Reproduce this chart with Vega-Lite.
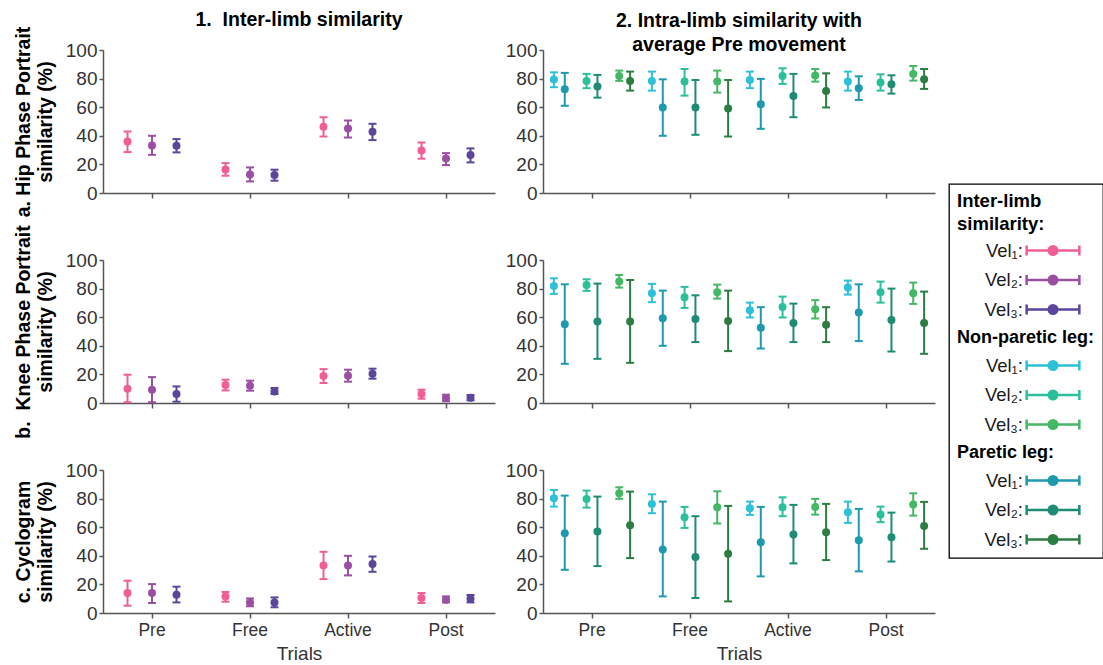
{
  "$schema": "https://vega.github.io/schema/vega-lite/v6.json",
  "padding": {"left": 13, "top": 9, "right": 0, "bottom": 0},
  "config": {
    "font": "Liberation Sans",
    "view": {"stroke": null},
    "axis": {
      "domainColor": "#555555", "domainWidth": 1.5,
      "tickColor": "#555555", "tickWidth": 1.5, "tickSize": 4,
      "labelColor": "#333333", "labelPadding": 2,
      "grid": false,
      "titleFontSize": 19.5, "titleFontWeight": "bold", "titleColor": "#000000"
    },
    "axisX": {"tickSize": 5, "labelAngle": 0, "labelFontSize": 17.5},
    "axisY": {"labelFontSize": 19},
    "legend": {"strokeWidth": 1.3},
    "title": {"fontSize": 19.5, "fontWeight": "bold", "color": "#000000", "anchor": "middle", "frame": "group"}
  },
  "data": {
    "values": [
      {"m": "Hip", "t": "Pre", "s": "I1", "v": 36, "lo": 28.6, "hi": 43},
      {"m": "Hip", "t": "Pre", "s": "I2", "v": 33.3, "lo": 26.7, "hi": 40},
      {"m": "Hip", "t": "Pre", "s": "I3", "v": 33, "lo": 28.4, "hi": 37.7},
      {"m": "Hip", "t": "Free", "s": "I1", "v": 16.5, "lo": 12.1, "hi": 20.9},
      {"m": "Hip", "t": "Free", "s": "I2", "v": 13, "lo": 8.1, "hi": 17.9},
      {"m": "Hip", "t": "Free", "s": "I3", "v": 12.6, "lo": 8.6, "hi": 16.3},
      {"m": "Hip", "t": "Active", "s": "I1", "v": 46.3, "lo": 39.5, "hi": 53},
      {"m": "Hip", "t": "Active", "s": "I2", "v": 45.1, "lo": 38.8, "hi": 50.7},
      {"m": "Hip", "t": "Active", "s": "I3", "v": 42.8, "lo": 37, "hi": 48.4},
      {"m": "Hip", "t": "Post", "s": "I1", "v": 29.8, "lo": 24, "hi": 35.3},
      {"m": "Hip", "t": "Post", "s": "I2", "v": 24.2, "lo": 19.5, "hi": 27.9},
      {"m": "Hip", "t": "Post", "s": "I3", "v": 26.5, "lo": 21.4, "hi": 31.2},

      {"m": "Hip", "t": "Pre", "s": "N1", "v": 79.3, "lo": 74, "hi": 84.4},
      {"m": "Hip", "t": "Pre", "s": "P1", "v": 72.6, "lo": 61, "hi": 84},
      {"m": "Hip", "t": "Pre", "s": "N2", "v": 78.4, "lo": 73.3, "hi": 83.3},
      {"m": "Hip", "t": "Pre", "s": "P2", "v": 74.4, "lo": 66.7, "hi": 82.6},
      {"m": "Hip", "t": "Pre", "s": "N3", "v": 81.9, "lo": 78.4, "hi": 85.6},
      {"m": "Hip", "t": "Pre", "s": "P3", "v": 78.4, "lo": 71.6, "hi": 84.9},
      {"m": "Hip", "t": "Free", "s": "N1", "v": 78.4, "lo": 71.6, "hi": 84.9},
      {"m": "Hip", "t": "Free", "s": "P1", "v": 59.8, "lo": 40, "hi": 79.5},
      {"m": "Hip", "t": "Free", "s": "N2", "v": 77.9, "lo": 68.1, "hi": 86.7},
      {"m": "Hip", "t": "Free", "s": "P2", "v": 59.8, "lo": 40.7, "hi": 79},
      {"m": "Hip", "t": "Free", "s": "N3", "v": 77.9, "lo": 70.2, "hi": 85.6},
      {"m": "Hip", "t": "Free", "s": "P3", "v": 59.1, "lo": 39.5, "hi": 79},
      {"m": "Hip", "t": "Active", "s": "N1", "v": 79, "lo": 73.3, "hi": 84.9},
      {"m": "Hip", "t": "Active", "s": "P1", "v": 62.1, "lo": 44.9, "hi": 79.8},
      {"m": "Hip", "t": "Active", "s": "N2", "v": 81.9, "lo": 76.3, "hi": 87.2},
      {"m": "Hip", "t": "Active", "s": "P2", "v": 67.9, "lo": 53, "hi": 83.3},
      {"m": "Hip", "t": "Active", "s": "N3", "v": 82.1, "lo": 77.9, "hi": 86.7},
      {"m": "Hip", "t": "Active", "s": "P3", "v": 71.4, "lo": 59.8, "hi": 83.7},
      {"m": "Hip", "t": "Post", "s": "N1", "v": 77.9, "lo": 71.6, "hi": 84.9},
      {"m": "Hip", "t": "Post", "s": "P1", "v": 73.3, "lo": 65.1, "hi": 81.6},
      {"m": "Hip", "t": "Post", "s": "N2", "v": 77.2, "lo": 71.6, "hi": 83},
      {"m": "Hip", "t": "Post", "s": "P2", "v": 76, "lo": 69.5, "hi": 82.3},
      {"m": "Hip", "t": "Post", "s": "N3", "v": 83.3, "lo": 78.6, "hi": 88.8},
      {"m": "Hip", "t": "Post", "s": "P3", "v": 79.5, "lo": 72.8, "hi": 86.7},

      {"m": "Knee", "t": "Pre", "s": "I1", "v": 10, "lo": 0.5, "hi": 19.8},
      {"m": "Knee", "t": "Pre", "s": "I2", "v": 9.3, "lo": 0.5, "hi": 18.1},
      {"m": "Knee", "t": "Pre", "s": "I3", "v": 6.3, "lo": 0.9, "hi": 11.6},
      {"m": "Knee", "t": "Free", "s": "I1", "v": 12.6, "lo": 8.8, "hi": 16.3},
      {"m": "Knee", "t": "Free", "s": "I2", "v": 12.1, "lo": 8.6, "hi": 15.6},
      {"m": "Knee", "t": "Free", "s": "I3", "v": 8.1, "lo": 6.3, "hi": 10.5},
      {"m": "Knee", "t": "Active", "s": "I1", "v": 18.8, "lo": 14, "hi": 23.7},
      {"m": "Knee", "t": "Active", "s": "I2", "v": 19.1, "lo": 14.9, "hi": 23.3},
      {"m": "Knee", "t": "Active", "s": "I3", "v": 20.5, "lo": 17, "hi": 24},
      {"m": "Knee", "t": "Post", "s": "I1", "v": 6.3, "lo": 3, "hi": 9.3},
      {"m": "Knee", "t": "Post", "s": "I2", "v": 3.5, "lo": 1.2, "hi": 5.8},
      {"m": "Knee", "t": "Post", "s": "I3", "v": 3.7, "lo": 1.9, "hi": 5.6},

      {"m": "Knee", "t": "Pre", "s": "N1", "v": 81.9, "lo": 76.3, "hi": 87.2},
      {"m": "Knee", "t": "Pre", "s": "P1", "v": 55.1, "lo": 27.4, "hi": 83},
      {"m": "Knee", "t": "Pre", "s": "N2", "v": 82.6, "lo": 78.4, "hi": 86.5},
      {"m": "Knee", "t": "Pre", "s": "P2", "v": 57, "lo": 30.9, "hi": 83.5},
      {"m": "Knee", "t": "Pre", "s": "N3", "v": 84.9, "lo": 80.7, "hi": 89.5},
      {"m": "Knee", "t": "Pre", "s": "P3", "v": 57, "lo": 28.1, "hi": 86},
      {"m": "Knee", "t": "Free", "s": "N1", "v": 76.7, "lo": 70.5, "hi": 83.3},
      {"m": "Knee", "t": "Free", "s": "P1", "v": 59.3, "lo": 40, "hi": 78.6},
      {"m": "Knee", "t": "Free", "s": "N2", "v": 74, "lo": 66.5, "hi": 81.2},
      {"m": "Knee", "t": "Free", "s": "P2", "v": 58.8, "lo": 42.6, "hi": 75.3},
      {"m": "Knee", "t": "Free", "s": "N3", "v": 77.4, "lo": 73, "hi": 82.8},
      {"m": "Knee", "t": "Free", "s": "P3", "v": 57.4, "lo": 36.3, "hi": 78.6},
      {"m": "Knee", "t": "Active", "s": "N1", "v": 64.9, "lo": 59.8, "hi": 70.2},
      {"m": "Knee", "t": "Active", "s": "P1", "v": 52.6, "lo": 38.1, "hi": 67},
      {"m": "Knee", "t": "Active", "s": "N2", "v": 67.2, "lo": 59.8, "hi": 74.4},
      {"m": "Knee", "t": "Active", "s": "P2", "v": 56, "lo": 42.6, "hi": 69.5},
      {"m": "Knee", "t": "Active", "s": "N3", "v": 65.6, "lo": 59.1, "hi": 71.9},
      {"m": "Knee", "t": "Active", "s": "P3", "v": 54.7, "lo": 42.6, "hi": 67},
      {"m": "Knee", "t": "Post", "s": "N1", "v": 80.7, "lo": 75.8, "hi": 85.6},
      {"m": "Knee", "t": "Post", "s": "P1", "v": 63.3, "lo": 43.3, "hi": 83},
      {"m": "Knee", "t": "Post", "s": "N2", "v": 77.4, "lo": 70.2, "hi": 84.9},
      {"m": "Knee", "t": "Post", "s": "P2", "v": 58.1, "lo": 36, "hi": 80},
      {"m": "Knee", "t": "Post", "s": "N3", "v": 76.7, "lo": 69.3, "hi": 84.2},
      {"m": "Knee", "t": "Post", "s": "P3", "v": 56, "lo": 34.4, "hi": 77.9},

      {"m": "Cyc", "t": "Pre", "s": "I1", "v": 14, "lo": 5.1, "hi": 22.6},
      {"m": "Cyc", "t": "Pre", "s": "I2", "v": 14, "lo": 7, "hi": 20.2},
      {"m": "Cyc", "t": "Pre", "s": "I3", "v": 12.8, "lo": 7.4, "hi": 18.4},
      {"m": "Cyc", "t": "Free", "s": "I1", "v": 11.6, "lo": 7.9, "hi": 14.7},
      {"m": "Cyc", "t": "Free", "s": "I2", "v": 7.4, "lo": 4.7, "hi": 10.2},
      {"m": "Cyc", "t": "Free", "s": "I3", "v": 7.4, "lo": 4, "hi": 10.9},
      {"m": "Cyc", "t": "Active", "s": "I1", "v": 33.3, "lo": 23.7, "hi": 42.8},
      {"m": "Cyc", "t": "Active", "s": "I2", "v": 33.3, "lo": 26.3, "hi": 40},
      {"m": "Cyc", "t": "Active", "s": "I3", "v": 34.2, "lo": 28.8, "hi": 39.5},
      {"m": "Cyc", "t": "Post", "s": "I1", "v": 10.5, "lo": 7, "hi": 14},
      {"m": "Cyc", "t": "Post", "s": "I2", "v": 9.3, "lo": 7.4, "hi": 11.6},
      {"m": "Cyc", "t": "Post", "s": "I3", "v": 10, "lo": 7.4, "hi": 12.6},

      {"m": "Cyc", "t": "Pre", "s": "N1", "v": 80.2, "lo": 74.4, "hi": 86},
      {"m": "Cyc", "t": "Pre", "s": "P1", "v": 55.8, "lo": 30.2, "hi": 82.1},
      {"m": "Cyc", "t": "Pre", "s": "N2", "v": 79.8, "lo": 73.7, "hi": 85.6},
      {"m": "Cyc", "t": "Pre", "s": "P2", "v": 57, "lo": 32.8, "hi": 81.4},
      {"m": "Cyc", "t": "Pre", "s": "N3", "v": 83.7, "lo": 79.8, "hi": 87.9},
      {"m": "Cyc", "t": "Pre", "s": "P3", "v": 61.4, "lo": 38.4, "hi": 84.9},
      {"m": "Cyc", "t": "Free", "s": "N1", "v": 76.3, "lo": 69.8, "hi": 83},
      {"m": "Cyc", "t": "Free", "s": "P1", "v": 44.4, "lo": 11.6, "hi": 77.9},
      {"m": "Cyc", "t": "Free", "s": "N2", "v": 67, "lo": 59.5, "hi": 74.2},
      {"m": "Cyc", "t": "Free", "s": "P2", "v": 39.1, "lo": 10.5, "hi": 67.7},
      {"m": "Cyc", "t": "Free", "s": "N3", "v": 74, "lo": 62.6, "hi": 85.1},
      {"m": "Cyc", "t": "Free", "s": "P3", "v": 41.4, "lo": 8.1, "hi": 74.9},
      {"m": "Cyc", "t": "Active", "s": "N1", "v": 73.3, "lo": 68.6, "hi": 77.9},
      {"m": "Cyc", "t": "Active", "s": "P1", "v": 49.5, "lo": 25.6, "hi": 74.2},
      {"m": "Cyc", "t": "Active", "s": "N2", "v": 74, "lo": 67.7, "hi": 80.9},
      {"m": "Cyc", "t": "Active", "s": "P2", "v": 54.9, "lo": 34.7, "hi": 75.6},
      {"m": "Cyc", "t": "Active", "s": "N3", "v": 74.2, "lo": 68.8, "hi": 79.8},
      {"m": "Cyc", "t": "Active", "s": "P3", "v": 56.5, "lo": 37, "hi": 76.3},
      {"m": "Cyc", "t": "Post", "s": "N1", "v": 70.5, "lo": 63, "hi": 77.9},
      {"m": "Cyc", "t": "Post", "s": "P1", "v": 50.9, "lo": 29.1, "hi": 72.8},
      {"m": "Cyc", "t": "Post", "s": "N2", "v": 68.8, "lo": 63.5, "hi": 74.4},
      {"m": "Cyc", "t": "Post", "s": "P2", "v": 53, "lo": 36, "hi": 70.2},
      {"m": "Cyc", "t": "Post", "s": "N3", "v": 75.8, "lo": 68.1, "hi": 83.7},
      {"m": "Cyc", "t": "Post", "s": "P3", "v": 60.9, "lo": 44.9, "hi": 77.7}
    ]
  },
  "columns": 2,
  "spacing": {"row": 67, "column": 48},
  "bounds": "flush",
  "resolve": {
    "scale": {"color": "shared", "x": "independent", "y": "independent", "xOffset": "independent"},
    "legend": {"color": "shared"}
  },
  "concat": [
    {
      "width": 392, "height": 143,
      "title": {"text": "1.\u00a0 Inter-limb similarity", "offset": -4},
      "transform": [{"filter": "datum.m == 'Hip' && test(/^I/, datum.s)"}],
      "encoding": {
        "x": {"field": "t", "type": "nominal", "sort": ["Pre", "Free", "Active", "Post"], "scale": {"paddingInner": 0, "paddingOuter": 0}, "axis": {"labels": false, "title": null}},
        "xOffset": {"field": "s", "type": "nominal", "scale": {"type": "point", "domain": ["I1", "I2", "I3"], "padding": 1.45}},
        "color": {
          "field": "s", "type": "nominal",
          "scale": {
            "domain": ["I1", "I2", "I3", "hN", "N1", "N2", "N3", "hP", "P1", "P2", "P3"],
            "range": ["#EF5F96", "#9B4FA3", "#5B469C", "#ffffff", "#2DC0D8", "#2BBF9C", "#44B864", "#ffffff", "#1E99AE", "#1E8B75", "#2B7D42"]
          },
          "legend": {
            "orient": "none", "legendX": 846, "legendY": 134,
            "title": ["Inter-limb", "similarity:"],
            "titleFontSize": 18.5, "titleFontWeight": "bold", "titleColor": "#000000", "titleLineHeight": 23, "titlePadding": 7,
            "labelFontSize": 18.5, "labelColor": "#1a1a1a", "labelLimit": 220,
            "labelExpr": "datum.value == 'hN' ? 'Non-paretic leg:' : datum.value == 'hP' ? 'Paretic leg:' : 'Vel' + (datum.value[1] == '1' ? '₁' : datum.value[1] == '2' ? '₂' : '₃') + ':'",
            "symbolType": "M-3.1,0H3.1M-3.1,-0.6V0.6M3.1,-0.6V0.6M0.5,0A0.5,0.5,0,1,1,-0.5,0A0.5,0.5,0,1,1,0.5,0Z",
            "symbolSize": 289, "symbolStrokeWidth": 2.5,
            "rowPadding": 7.5, "padding": 8,
            "strokeColor": "#000000", "fillColor": "#ffffff",
            "encode": {
              "symbols": {"update": {
                "fill": {"scale": "color", "field": "value"},
                "stroke": {"scale": "color", "field": "value"},
                "opacity": {"signal": "indexof(['hN','hP'], datum.value) >= 0 ? 0 : 1"},
                "x": {"value": 96}
              }},
              "labels": {"update": {
                "x": {"signal": "indexof(['hN','hP'], datum.value) >= 0 ? 0 : 66"},
                "align": {"signal": "indexof(['hN','hP'], datum.value) >= 0 ? 'left' : 'right'"},
                "fontWeight": {"signal": "indexof(['hN','hP'], datum.value) >= 0 ? 'bold' : 'normal'"},
                "fontSize": {"signal": "indexof(['hN','hP'], datum.value) >= 0 ? 18 : 18.5"},
                "fill": {"signal": "indexof(['hN','hP'], datum.value) >= 0 ? '#000000' : '#1a1a1a'"}
              }}
            }
          }
        }
      },
      "layer": [
        {"mark": {"type": "rule", "strokeWidth": 2}, "encoding": {"y": {"field": "lo", "type": "quantitative", "scale": {"domain": [0, 100]}, "axis": {"values": [0, 20, 40, 60, 80, 100], "title": ["a. Hip Phase Portrait", "similarity (%)"], "titlePadding": 10, "titleLineHeight": 22}}, "y2": {"field": "hi"}}},
        {"mark": {"type": "tick", "thickness": 2, "size": 8, "opacity": 1}, "encoding": {"y": {"field": "lo", "type": "quantitative", "scale": {"domain": [0, 100]}, "axis": {"values": [0, 20, 40, 60, 80, 100], "title": ["a. Hip Phase Portrait", "similarity (%)"], "titlePadding": 10, "titleLineHeight": 22}}}},
        {"mark": {"type": "tick", "thickness": 2, "size": 8, "opacity": 1}, "encoding": {"y": {"field": "hi", "type": "quantitative", "scale": {"domain": [0, 100]}, "axis": {"values": [0, 20, 40, 60, 80, 100], "title": ["a. Hip Phase Portrait", "similarity (%)"], "titlePadding": 10, "titleLineHeight": 22}}}},
        {"mark": {"type": "point", "filled": true, "size": 64, "opacity": 1}, "encoding": {"y": {"field": "v", "type": "quantitative", "scale": {"domain": [0, 100]}, "axis": {"values": [0, 20, 40, 60, 80, 100], "title": ["a. Hip Phase Portrait", "similarity (%)"], "titlePadding": 10, "titleLineHeight": 22}}}}
      ]
    },
    {
      "width": 392, "height": 143,
      "title": {"text": ["2. Intra-limb similarity with", "average Pre movement"], "offset": -14, "lineHeight": 24},
      "transform": [{"filter": "datum.m == 'Hip' && !test(/^I/, datum.s)"}],
      "encoding": {
        "x": {"field": "t", "type": "nominal", "sort": ["Pre", "Free", "Active", "Post"], "scale": {"paddingInner": 0, "paddingOuter": 0}, "axis": {"labels": false, "title": null}},
        "xOffset": {"field": "s", "type": "nominal", "scale": {"type": "point", "domain": ["N1", "P1", "gA", "N2", "P2", "gB", "N3", "P3"], "padding": 4.04}},
        "color": {
          "field": "s", "type": "nominal",
          "scale": {
            "domain": ["I1", "I2", "I3", "hN", "N1", "N2", "N3", "hP", "P1", "P2", "P3"],
            "range": ["#EF5F96", "#9B4FA3", "#5B469C", "#ffffff", "#2DC0D8", "#2BBF9C", "#44B864", "#ffffff", "#1E99AE", "#1E8B75", "#2B7D42"]
          },
          "legend": null
        }
      },
      "layer": [
        {"mark": {"type": "rule", "strokeWidth": 2}, "encoding": {"y": {"field": "lo", "type": "quantitative", "scale": {"domain": [0, 100]}, "axis": {"values": [0, 20, 40, 60, 80, 100], "title": null}}, "y2": {"field": "hi"}}},
        {"mark": {"type": "tick", "thickness": 2, "size": 8, "opacity": 1}, "encoding": {"y": {"field": "lo", "type": "quantitative", "scale": {"domain": [0, 100]}, "axis": {"values": [0, 20, 40, 60, 80, 100], "title": null}}}},
        {"mark": {"type": "tick", "thickness": 2, "size": 8, "opacity": 1}, "encoding": {"y": {"field": "hi", "type": "quantitative", "scale": {"domain": [0, 100]}, "axis": {"values": [0, 20, 40, 60, 80, 100], "title": null}}}},
        {"mark": {"type": "point", "filled": true, "size": 64, "opacity": 1}, "encoding": {"y": {"field": "v", "type": "quantitative", "scale": {"domain": [0, 100]}, "axis": {"values": [0, 20, 40, 60, 80, 100], "title": null}}}}
      ]
    },
    {
      "width": 392, "height": 143,
      "transform": [{"filter": "datum.m == 'Knee' && test(/^I/, datum.s)"}],
      "encoding": {
        "x": {"field": "t", "type": "nominal", "sort": ["Pre", "Free", "Active", "Post"], "scale": {"paddingInner": 0, "paddingOuter": 0}, "axis": {"labels": false, "title": null}},
        "xOffset": {"field": "s", "type": "nominal", "scale": {"type": "point", "domain": ["I1", "I2", "I3"], "padding": 1.45}},
        "color": {
          "field": "s", "type": "nominal",
          "scale": {
            "domain": ["I1", "I2", "I3", "hN", "N1", "N2", "N3", "hP", "P1", "P2", "P3"],
            "range": ["#EF5F96", "#9B4FA3", "#5B469C", "#ffffff", "#2DC0D8", "#2BBF9C", "#44B864", "#ffffff", "#1E99AE", "#1E8B75", "#2B7D42"]
          },
          "legend": null
        }
      },
      "layer": [
        {"mark": {"type": "rule", "strokeWidth": 2}, "encoding": {"y": {"field": "lo", "type": "quantitative", "scale": {"domain": [0, 100]}, "axis": {"values": [0, 20, 40, 60, 80, 100], "title": ["b.\u00a0 Knee Phase Portrait", "similarity (%)"], "titlePadding": 10, "titleLineHeight": 22}}, "y2": {"field": "hi"}}},
        {"mark": {"type": "tick", "thickness": 2, "size": 8, "opacity": 1}, "encoding": {"y": {"field": "lo", "type": "quantitative", "scale": {"domain": [0, 100]}, "axis": {"values": [0, 20, 40, 60, 80, 100], "title": ["b.\u00a0 Knee Phase Portrait", "similarity (%)"], "titlePadding": 10, "titleLineHeight": 22}}}},
        {"mark": {"type": "tick", "thickness": 2, "size": 8, "opacity": 1}, "encoding": {"y": {"field": "hi", "type": "quantitative", "scale": {"domain": [0, 100]}, "axis": {"values": [0, 20, 40, 60, 80, 100], "title": ["b.\u00a0 Knee Phase Portrait", "similarity (%)"], "titlePadding": 10, "titleLineHeight": 22}}}},
        {"mark": {"type": "point", "filled": true, "size": 64, "opacity": 1}, "encoding": {"y": {"field": "v", "type": "quantitative", "scale": {"domain": [0, 100]}, "axis": {"values": [0, 20, 40, 60, 80, 100], "title": ["b.\u00a0 Knee Phase Portrait", "similarity (%)"], "titlePadding": 10, "titleLineHeight": 22}}}}
      ]
    },
    {
      "width": 392, "height": 143,
      "transform": [{"filter": "datum.m == 'Knee' && !test(/^I/, datum.s)"}],
      "encoding": {
        "x": {"field": "t", "type": "nominal", "sort": ["Pre", "Free", "Active", "Post"], "scale": {"paddingInner": 0, "paddingOuter": 0}, "axis": {"labels": false, "title": null}},
        "xOffset": {"field": "s", "type": "nominal", "scale": {"type": "point", "domain": ["N1", "P1", "gA", "N2", "P2", "gB", "N3", "P3"], "padding": 4.04}},
        "color": {
          "field": "s", "type": "nominal",
          "scale": {
            "domain": ["I1", "I2", "I3", "hN", "N1", "N2", "N3", "hP", "P1", "P2", "P3"],
            "range": ["#EF5F96", "#9B4FA3", "#5B469C", "#ffffff", "#2DC0D8", "#2BBF9C", "#44B864", "#ffffff", "#1E99AE", "#1E8B75", "#2B7D42"]
          },
          "legend": null
        }
      },
      "layer": [
        {"mark": {"type": "rule", "strokeWidth": 2}, "encoding": {"y": {"field": "lo", "type": "quantitative", "scale": {"domain": [0, 100]}, "axis": {"values": [0, 20, 40, 60, 80, 100], "title": null}}, "y2": {"field": "hi"}}},
        {"mark": {"type": "tick", "thickness": 2, "size": 8, "opacity": 1}, "encoding": {"y": {"field": "lo", "type": "quantitative", "scale": {"domain": [0, 100]}, "axis": {"values": [0, 20, 40, 60, 80, 100], "title": null}}}},
        {"mark": {"type": "tick", "thickness": 2, "size": 8, "opacity": 1}, "encoding": {"y": {"field": "hi", "type": "quantitative", "scale": {"domain": [0, 100]}, "axis": {"values": [0, 20, 40, 60, 80, 100], "title": null}}}},
        {"mark": {"type": "point", "filled": true, "size": 64, "opacity": 1}, "encoding": {"y": {"field": "v", "type": "quantitative", "scale": {"domain": [0, 100]}, "axis": {"values": [0, 20, 40, 60, 80, 100], "title": null}}}}
      ]
    },
    {
      "width": 392, "height": 143,
      "transform": [{"filter": "datum.m == 'Cyc' && test(/^I/, datum.s)"}],
      "encoding": {
        "x": {"field": "t", "type": "nominal", "sort": ["Pre", "Free", "Active", "Post"], "scale": {"paddingInner": 0, "paddingOuter": 0}, "axis": {"title": "Trials", "titleFontSize": 19, "titleFontWeight": "normal", "titleColor": "#333333", "titlePadding": 6, "labelPadding": 3}},
        "xOffset": {"field": "s", "type": "nominal", "scale": {"type": "point", "domain": ["I1", "I2", "I3"], "padding": 1.45}},
        "color": {
          "field": "s", "type": "nominal",
          "scale": {
            "domain": ["I1", "I2", "I3", "hN", "N1", "N2", "N3", "hP", "P1", "P2", "P3"],
            "range": ["#EF5F96", "#9B4FA3", "#5B469C", "#ffffff", "#2DC0D8", "#2BBF9C", "#44B864", "#ffffff", "#1E99AE", "#1E8B75", "#2B7D42"]
          },
          "legend": null
        }
      },
      "layer": [
        {"mark": {"type": "rule", "strokeWidth": 2}, "encoding": {"y": {"field": "lo", "type": "quantitative", "scale": {"domain": [0, 100]}, "axis": {"values": [0, 20, 40, 60, 80, 100], "title": ["c. Cyclogram", "similarity (%)"], "titlePadding": 10, "titleLineHeight": 22}}, "y2": {"field": "hi"}}},
        {"mark": {"type": "tick", "thickness": 2, "size": 8, "opacity": 1}, "encoding": {"y": {"field": "lo", "type": "quantitative", "scale": {"domain": [0, 100]}, "axis": {"values": [0, 20, 40, 60, 80, 100], "title": ["c. Cyclogram", "similarity (%)"], "titlePadding": 10, "titleLineHeight": 22}}}},
        {"mark": {"type": "tick", "thickness": 2, "size": 8, "opacity": 1}, "encoding": {"y": {"field": "hi", "type": "quantitative", "scale": {"domain": [0, 100]}, "axis": {"values": [0, 20, 40, 60, 80, 100], "title": ["c. Cyclogram", "similarity (%)"], "titlePadding": 10, "titleLineHeight": 22}}}},
        {"mark": {"type": "point", "filled": true, "size": 64, "opacity": 1}, "encoding": {"y": {"field": "v", "type": "quantitative", "scale": {"domain": [0, 100]}, "axis": {"values": [0, 20, 40, 60, 80, 100], "title": ["c. Cyclogram", "similarity (%)"], "titlePadding": 10, "titleLineHeight": 22}}}}
      ]
    },
    {
      "width": 392, "height": 143,
      "transform": [{"filter": "datum.m == 'Cyc' && !test(/^I/, datum.s)"}],
      "encoding": {
        "x": {"field": "t", "type": "nominal", "sort": ["Pre", "Free", "Active", "Post"], "scale": {"paddingInner": 0, "paddingOuter": 0}, "axis": {"title": "Trials", "titleFontSize": 19, "titleFontWeight": "normal", "titleColor": "#333333", "titlePadding": 6, "labelPadding": 3}},
        "xOffset": {"field": "s", "type": "nominal", "scale": {"type": "point", "domain": ["N1", "P1", "gA", "N2", "P2", "gB", "N3", "P3"], "padding": 4.04}},
        "color": {
          "field": "s", "type": "nominal",
          "scale": {
            "domain": ["I1", "I2", "I3", "hN", "N1", "N2", "N3", "hP", "P1", "P2", "P3"],
            "range": ["#EF5F96", "#9B4FA3", "#5B469C", "#ffffff", "#2DC0D8", "#2BBF9C", "#44B864", "#ffffff", "#1E99AE", "#1E8B75", "#2B7D42"]
          },
          "legend": null
        }
      },
      "layer": [
        {"mark": {"type": "rule", "strokeWidth": 2}, "encoding": {"y": {"field": "lo", "type": "quantitative", "scale": {"domain": [0, 100]}, "axis": {"values": [0, 20, 40, 60, 80, 100], "title": null}}, "y2": {"field": "hi"}}},
        {"mark": {"type": "tick", "thickness": 2, "size": 8, "opacity": 1}, "encoding": {"y": {"field": "lo", "type": "quantitative", "scale": {"domain": [0, 100]}, "axis": {"values": [0, 20, 40, 60, 80, 100], "title": null}}}},
        {"mark": {"type": "tick", "thickness": 2, "size": 8, "opacity": 1}, "encoding": {"y": {"field": "hi", "type": "quantitative", "scale": {"domain": [0, 100]}, "axis": {"values": [0, 20, 40, 60, 80, 100], "title": null}}}},
        {"mark": {"type": "point", "filled": true, "size": 64, "opacity": 1}, "encoding": {"y": {"field": "v", "type": "quantitative", "scale": {"domain": [0, 100]}, "axis": {"values": [0, 20, 40, 60, 80, 100], "title": null}}}}
      ]
    }
  ]
}
